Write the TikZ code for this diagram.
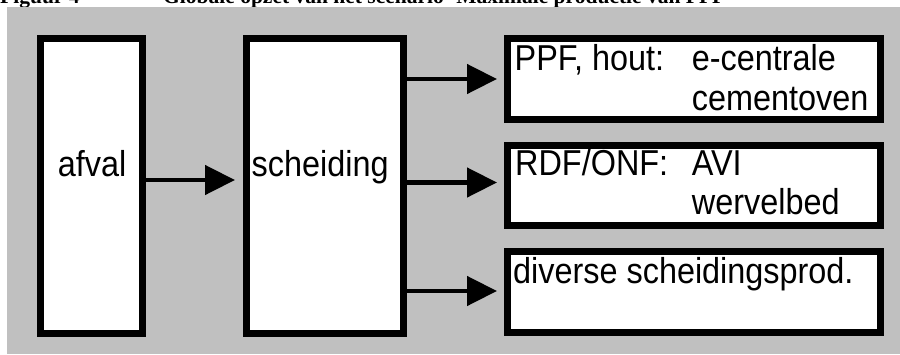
\documentclass[tikz,border=0pt]{standalone}
\usepackage{fontspec}
\setmainfont[FakeStretch=0.9]{Liberation Sans}
\newfontfamily\capfont{Liberation Serif}
\usetikzlibrary{arrows.meta}
\definecolor{bg}{RGB}{192,192,192}
\begin{document}
\begin{tikzpicture}[x=1pt,y=-1pt,
  box/.style={draw=black, fill=white, line width=6.6pt, inner sep=0pt},
  arr/.style={line width=4.6pt, -{Triangle[length=30pt,width=29pt]}},
  txt/.style={font=\fontsize{36}{40}\selectfont, anchor=base west, inner sep=0pt},
  captxt/.style={font=\capfont\bfseries\fontsize{21.5}{21.5}\selectfont, anchor=base west, inner sep=0pt}]
\useasboundingbox (0,0) rectangle (900,354);
\begin{scope}
\clip (0,0) rectangle (900,7);
\node[captxt] (fig) at (0,3.5) {Figuur 4};
\node[captxt] (title) at (163,3.5) {Globale opzet van het scenario ‘Maximale productie van PPF’};
\end{scope}
\fill[bg] (7,7) rectangle (900,354);
% boxes
\node[box, minimum width=102.4pt, minimum height=295.4pt] (afval) at (91.5,186) {};
\node[box, minimum width=157.4pt, minimum height=295.4pt] (sch) at (325,186) {};
\node[box, minimum width=373.4pt, minimum height=81.4pt] (b1) at (694,79) {};
\node[box, minimum width=373.4pt, minimum height=80.4pt] (b2) at (694,185.5) {};
\node[box, minimum width=373.4pt, minimum height=81.4pt] (b3) at (694,292) {};
% texts
\node[txt, anchor=base] (tafval) at (92,176.7) {afval};
\node[txt] (tsch) at (251.5,176.7) {scheiding};
\node[txt] (t1a) at (514.5,70.3) {PPF, hout:};
\node[txt] (t1b) at (691.7,70.3) {e-centrale};
\node[txt] (t1c) at (691.7,110) {cementoven};
\node[txt] (t2a) at (515,175) {RDF/ONF:};
\node[txt] (t2b) at (691.7,175) {AVI};
\node[txt] (t2c) at (691.7,214) {wervelbed};
\node[txt] (t3a) at (513,283) {diverse scheidingsprod.};
% arrows
\coordinate (e2) at ([xshift=-7pt]b1.west);
\coordinate (e3) at ([xshift=-7pt,yshift=3pt]b2.west);
\coordinate (e4) at ([xshift=-7pt,yshift=1pt]b3.west);
\draw[arr] ([yshift=6pt]afval.east) -- ([xshift=-8pt,yshift=6pt]sch.west);
\draw[arr] (sch.east |- e2) -- (e2);
\draw[arr] (sch.east |- e3) -- (e3);
\draw[arr] (sch.east |- e4) -- (e4);
\end{tikzpicture}
\end{document}
